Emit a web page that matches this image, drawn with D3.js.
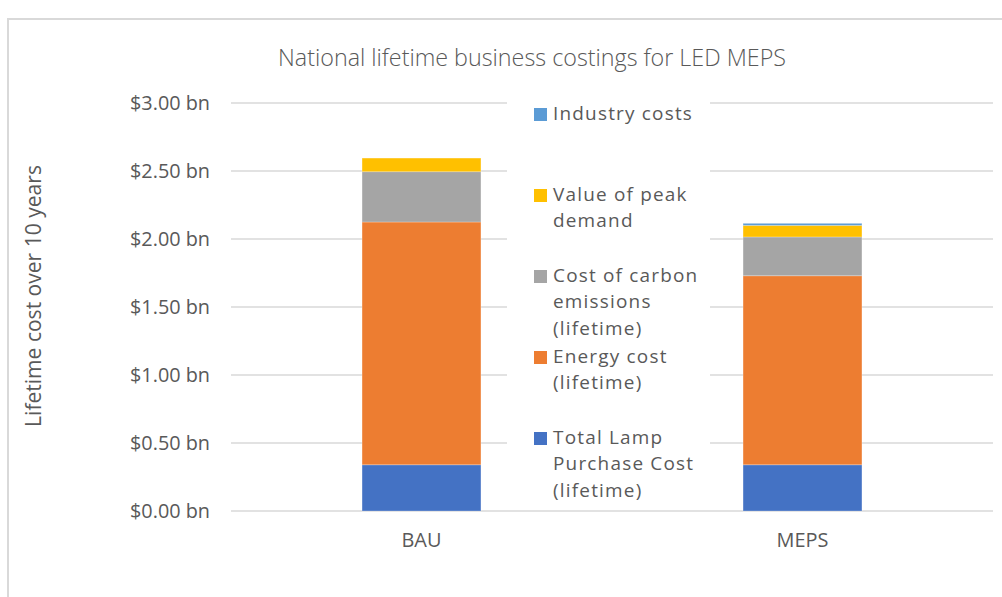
<!DOCTYPE html>
<html><head><meta charset="utf-8">
<script src="https://cdn.jsdelivr.net/npm/d3@7"></script>
<style>
html,body{margin:0;padding:0;background:#fff;}
text{font-family:"Open Sans",sans-serif;fill:#595959;}
</style></head>
<body>
<svg id="chart" width="1002" height="597"></svg>
<script>
const categories = ["BAU", "MEPS"];
const seriesNames = ["Total Lamp Purchase Cost (lifetime)", "Energy cost (lifetime)", "Cost of carbon emissions (lifetime)", "Value of peak demand", "Industry costs"];
const lampCost   = [0.34, 0.34];
const energyCost = [1.785, 1.39];
const carbonCost = [0.37, 0.285];
const peakDemand = [0.10, 0.085];
const industry   = [0.0, 0.015];
const yTicks = [0, 0.5, 1.0, 1.5, 2.0, 2.5, 3.0];
const colors = ["#4472C4", "#ED7D31", "#A5A5A5", "#FFC000", "#5B9BD5"];
const legendLines = [
  ["Industry costs"],
  ["Value of peak", "demand"],
  ["Cost of carbon", "emissions", "(lifetime)"],
  ["Energy cost", "(lifetime)"],
  ["Total Lamp", "Purchase Cost", "(lifetime)"]
];
const legendColorIdx = [4, 3, 2, 1, 0];
const title = "National lifetime business costings for LED MEPS";
const yTitle = "Lifetime cost over 10 years";

const svg = d3.select("#chart");
const series = [lampCost, energyCost, carbonCost, peakDemand, industry];
const rows = categories.map((c, i) => {
  const r = {cat: c};
  seriesNames.forEach((s, j) => r[s] = series[j][i]);
  return r;
});
const stacked = d3.stack().keys(seriesNames)(rows);

const plot = {left: 231, right: 993, top: 103, bottom: 511};
const x = d3.scaleBand().domain(categories).range([plot.left, plot.right]).paddingInner(0.688).paddingOuter(0.344);
const y = d3.scaleLinear().domain([0, 3]).range([plot.bottom, plot.top]);

function fit(sel, target) {
  const n = sel.node();
  const fs = parseFloat(sel.attr("font-size"));
  const w = n.getComputedTextLength();
  sel.attr("font-size", (fs * target / w).toFixed(2));
}

// chart border
svg.append("path").attr("d", "M8,597 L8,19 L1002,19")
  .attr("fill", "none").attr("stroke", "#D9D9D9").attr("stroke-width", 2);

// title
const t = svg.append("text").attr("x", 532).attr("y", 66).attr("text-anchor", "middle")
  .attr("font-size", 20).attr("font-weight", 300).text(title);
fit(t, 508);

// gridlines
svg.append("g").selectAll("line").data(yTicks).join("line")
  .attr("x1", plot.left).attr("x2", plot.right)
  .attr("y1", d => y(d)).attr("y2", d => y(d))
  .attr("stroke", "#D9D9D9").attr("stroke-width", 1.5);

// y axis labels
const yAxis = svg.append("g").attr("transform", `translate(${plot.left - 21},0)`)
  .call(d3.axisLeft(y).tickValues(yTicks).tickSize(0).tickPadding(0).tickFormat(d => "$" + d.toFixed(2) + " bn"));
yAxis.select(".domain").remove();
yAxis.selectAll("text").attr("font-family", "Open Sans").attr("font-size", 17).attr("fill", "#595959").attr("dy", "0.35em");
{
  const w = yAxis.select(".tick text").node().getComputedTextLength();
  const fs = (17 * 80 / w).toFixed(2);
  yAxis.selectAll("text").attr("font-size", fs);
}

// y title
const yt = svg.append("text").attr("transform", "translate(41,296) rotate(-90)")
  .attr("text-anchor", "middle").attr("font-size", 17).text(yTitle);
fit(yt, 262);

// bars
svg.append("g").selectAll("g").data(stacked).join("g")
  .attr("fill", (d, i) => colors[i])
  .selectAll("rect").data(d => d).join("rect")
  .attr("x", d => x(d.data.cat))
  .attr("width", x.bandwidth())
  .attr("y", d => y(d[1]))
  .attr("height", d => Math.max(0, y(d[0]) - y(d[1])))
  .attr("stroke", "#ffffff").attr("stroke-opacity", 0.25).attr("stroke-width", 1);

// x labels
const xAxis = svg.append("g").attr("transform", `translate(0,${plot.bottom})`)
  .call(d3.axisBottom(x).tickSize(0).tickPadding(0));
xAxis.select(".domain").remove();
xAxis.selectAll("text").attr("font-family", "Open Sans").attr("font-size", 17).attr("fill", "#595959")
  .attr("dy", "0.35em").attr("y", 29);
{
  const w = xAxis.select(".tick text").node().getComputedTextLength();
  const fs = (17 * 40 / w).toFixed(2);
  xAxis.selectAll("text").attr("font-size", fs);
}

// legend
const lg = svg.append("g");
lg.append("rect").attr("x", 507).attr("y", 100).attr("width", 203).attr("height", 407).attr("fill", "#fff");
const entryTop = [113, 194, 275, 356, 437];
const lineH = 26.5;
legendLines.forEach((lines, i) => {
  lg.append("rect").attr("x", 534).attr("y", entryTop[i] - 5).attr("width", 13).attr("height", 13)
    .attr("fill", colors[legendColorIdx[i]]);
  lines.forEach((ln, k) => {
    lg.append("text").attr("class", "lgt").attr("x", 553).attr("y", entryTop[i] + k * lineH)
      .attr("dy", "0.35em").attr("font-size", 17).attr("letter-spacing", 1.2).text(ln);
  });
});
{
  const ref = lg.selectAll(".lgt").filter(function(){ return this.textContent === "Industry costs"; });
  const w = ref.node().getComputedTextLength();
  const fs = (17 * 142 / w).toFixed(2);
  lg.selectAll(".lgt").attr("font-size", fs);
}
</script>
</body></html>
